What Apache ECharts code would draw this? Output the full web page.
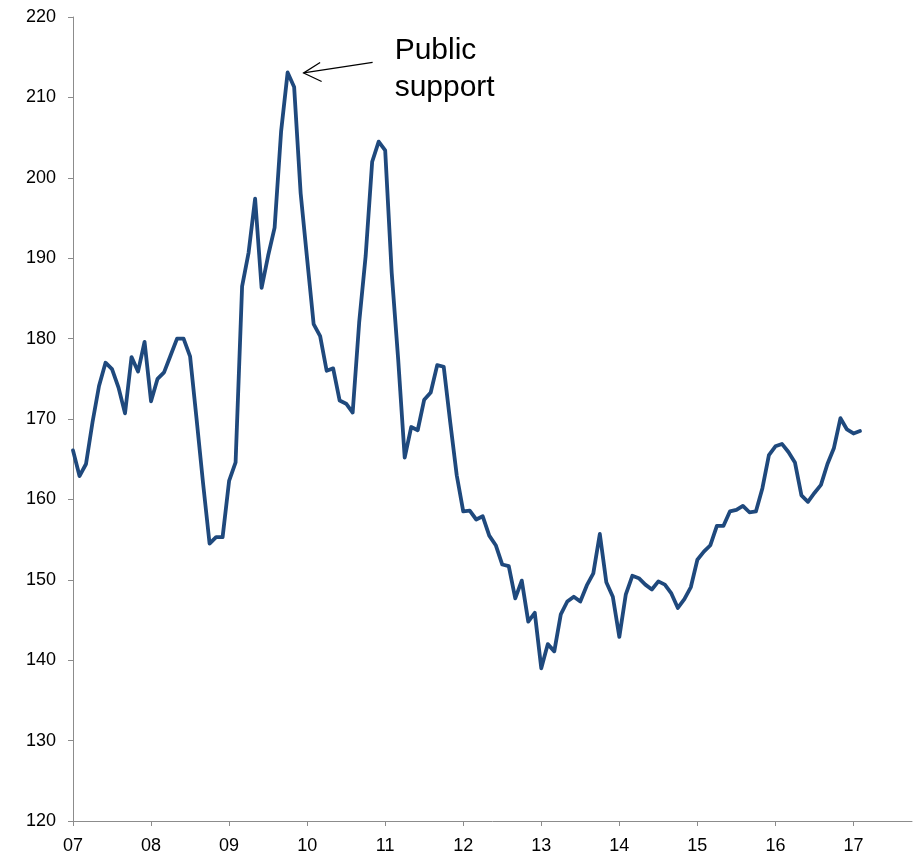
<!DOCTYPE html>
<html>
<head>
<meta charset="utf-8">
<script src="https://cdn.jsdelivr.net/npm/echarts@6/dist/echarts.min.js"></script>
<style>
html,body{margin:0;padding:0;background:#fff;}
#chart{width:914px;height:855px;}
</style>
</head>
<body>
<div id="chart"></div>
<script>
// Year tick labels (axis runs Jan 2007 to Oct 2017, monthly)
const yearLabels = ["07","08","09","10","11","12","13","14","15","16","17"];
const monthsAfterLastYear = 10;
// Monthly index values, Jan 2007 - Feb 2017
const values = [
  166.1,162.9,164.4,169.6,174.1,177.0,176.2,173.9,170.7,177.7,175.9,179.6,
  172.2,175.0,175.8,177.9,180.0,180.0,177.8,170.0,162.0,154.5,155.3,155.3,
  162.3,164.6,186.5,190.7,197.4,186.3,190.3,193.8,205.8,213.1,211.3,198.1,
  189.9,181.8,180.3,176.0,176.3,172.3,171.9,170.8,182.0,190.3,202.0,204.5,
  203.4,188.2,177.4,165.2,169.0,168.6,172.4,173.3,176.7,176.5,169.6,163.0,
  158.5,158.6,157.5,157.9,155.5,154.3,151.9,151.7,147.7,149.9,144.8,145.9,
  139.0,142.0,141.1,145.7,147.3,147.9,147.3,149.3,150.8,155.7,149.7,147.9,
  142.9,148.2,150.5,150.2,149.4,148.8,149.8,149.4,148.3,146.5,147.6,149.1,
  152.5,153.5,154.3,156.7,156.7,158.5,158.7,159.2,158.4,158.5,161.4,165.5,
  166.6,166.9,165.9,164.6,160.5,159.7,160.8,161.8,164.4,166.4,170.1,168.7,
  168.2,168.5
];
const peakIndex = 33;
const annotationText = "Public\nsupport";

const categories = [];
yearLabels.forEach(function (y, k) {
  const n = (k === yearLabels.length - 1) ? monthsAfterLastYear : 12;
  for (let m = 1; m <= n; m++) categories.push(y + "-" + (m < 10 ? "0" + m : m));
});

const chart = echarts.init(document.getElementById('chart'), null, {renderer: 'canvas'});
const axisColor = '#8c8c8c';
const font = '"Liberation Sans", Arial, sans-serif';

chart.setOption({
  animation: false,
  backgroundColor: '#fff',
  grid: {left: 73, right: 2, top: 17, bottom: 32, containLabel: false},
  xAxis: {
    type: 'category',
    data: categories,
    boundaryGap: false,
    axisLine: {lineStyle: {color: axisColor, width: 1}},
    axisTick: {show: true, interval: 11, length: 5, lineStyle: {color: axisColor}},
    axisLabel: {
      interval: 11, margin: 16, color: '#000', fontSize: 18, fontFamily: font,
      formatter: function (v) { return v.slice(0, 2); }
    },
    splitLine: {show: false}
  },
  yAxis: {
    type: 'value',
    min: 120, max: 220, interval: 10,
    axisLine: {show: true, lineStyle: {color: axisColor, width: 1}},
    axisTick: {show: true, length: 5, lineStyle: {color: axisColor}},
    axisLabel: {margin: 17, color: '#000', fontSize: 18, fontFamily: font},
    splitLine: {show: false}
  },
  series: [{
    type: 'line',
    data: values,
    showSymbol: false,
    symbol: 'none',
    lineStyle: {color: '#1F497D', width: 3.8, join: 'round', cap: 'round'},
    smooth: false
  }]
});

const p = chart.convertToPixel({gridIndex: 0}, [peakIndex, values[peakIndex]]);
const tip = [p[0] + 16, p[1] + 0.5];
chart.setOption({
  graphic: [
    {type: 'line', shape: {x1: tip[0] + 69, y1: tip[1] - 10.5, x2: tip[0], y2: tip[1]},
     style: {stroke: '#000', lineWidth: 1.3}},
    {type: 'polyline', shape: {points: [[tip[0] + 16.5, tip[1] - 10.5], [tip[0], tip[1]], [tip[0] + 18, tip[1] + 8.5]]},
     style: {stroke: '#000', lineWidth: 1.3, fill: null}},
    {type: 'text', x: tip[0] + 91, y: tip[1] - 41,
     style: {text: annotationText, font: '30px ' + font, fill: '#000', lineHeight: 37}}
  ]
});
</script>
</body>
</html>
